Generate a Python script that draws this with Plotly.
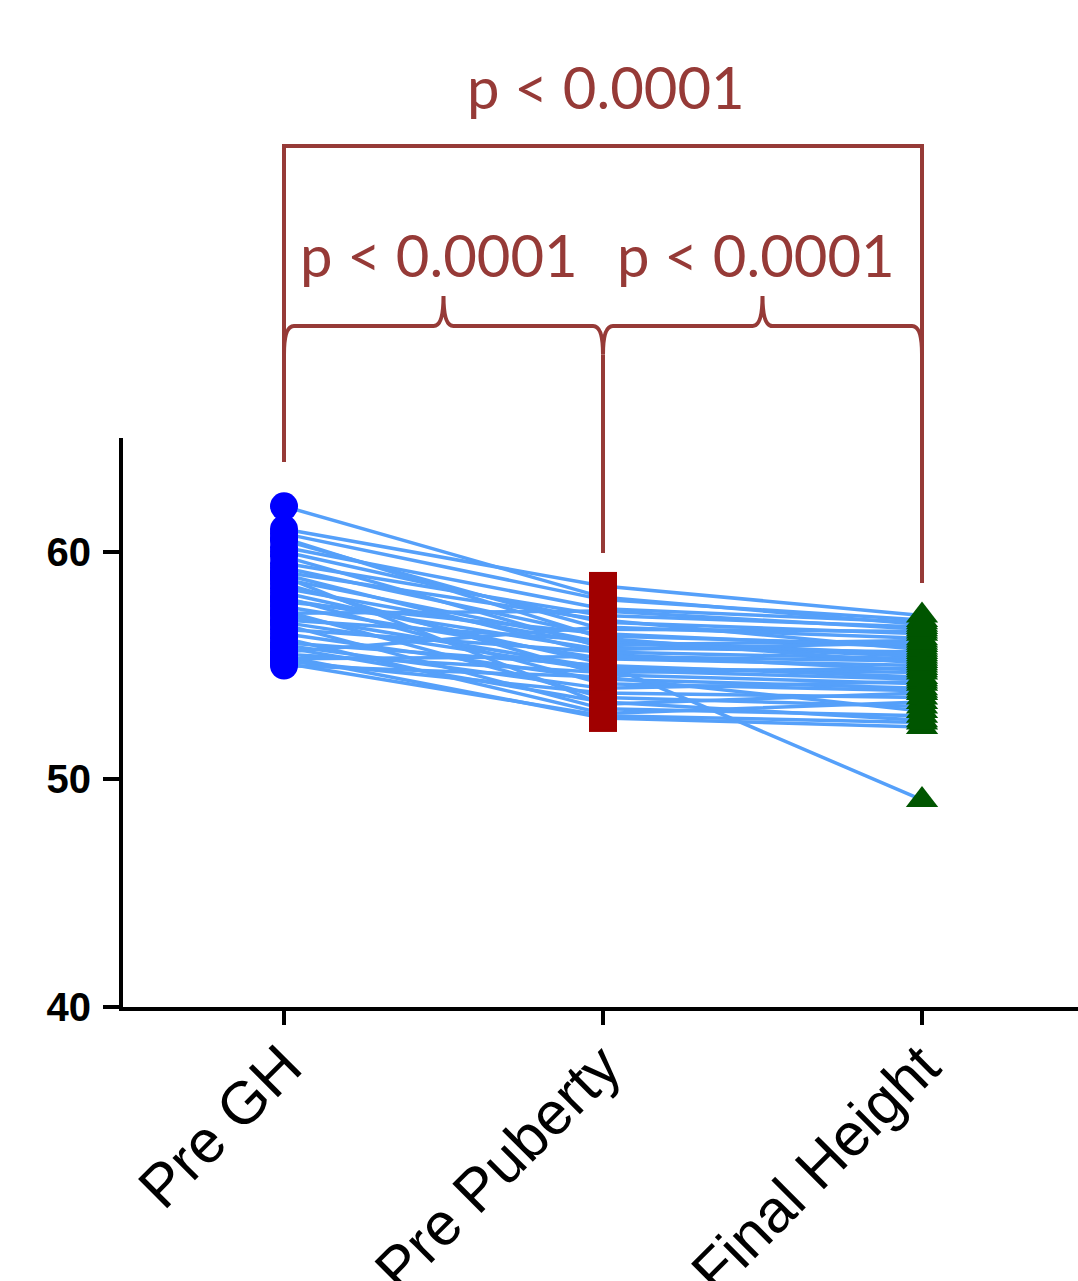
import plotly.graph_objects as go

# ---------------- data ----------------
categories = ["Pre GH", "Pre Puberty", "Final Height"]
pre_gh = [62.0, 61.0, 60.8, 60.5, 60.2, 60.0, 59.8, 59.5, 59.3, 59.0,
          58.8, 58.6, 58.4, 58.2, 58.0, 57.8, 57.6, 57.4, 57.2, 57.0,
          56.8, 56.6, 56.4, 56.2, 56.0, 55.9, 55.8, 55.6, 55.5, 55.4,
          55.3, 55.2, 55.1, 55.0, 59.1, 57.9, 56.9, 60.6, 58.9, 57.3]
pre_puberty = [58.0, 58.5, 57.9, 56.6, 57.5, 56.9, 55.8, 57.2, 56.3, 55.5,
               56.0, 54.6, 55.9, 55.1, 54.2, 56.4, 55.3, 53.6, 54.9, 56.1,
               53.1, 55.6, 54.4, 52.9, 55.0, 54.0, 53.4, 56.7, 54.7, 52.7,
               55.4, 53.8, 52.8, 54.5, 57.0, 55.7, 54.8, 56.2, 53.3, 57.4]
final_height = [56.8, 57.2, 57.0, 56.5, 56.9, 56.4, 55.6, 56.7, 55.9, 54.8,
                55.4, 54.2, 56.1, 49.1, 53.9, 55.8, 55.0, 53.2, 54.7, 55.5,
                52.8, 55.3, 54.0, 53.4, 54.5, 54.3, 52.6, 56.2, 54.9, 52.3,
                55.2, 53.6, 52.5, 53.0, 55.7, 56.0, 54.4, 55.1, 53.8, 56.6]
p_labels = ["p < 0.0001", "p < 0.0001", "p < 0.0001"]
y_ticks = [40, 50, 60]

# ---------------- layout constants ----------------
XR = [-0.5047, 2.489]
YR = [40, 65]
BR_COLOR = "#963a37"
LINE_COLOR = "#55a0fa"

def xp(v):
    return (v - XR[0]) / (XR[1] - XR[0])

def yp(v):
    return (v - YR[0]) / (YR[1] - YR[0])

fig = go.Figure()

# paired lines (one per subject)
lx, ly = [], []
for a, b, c in zip(pre_gh, pre_puberty, final_height):
    lx += [0, 1, 2, None]
    ly += [a, b, c, None]
fig.add_trace(go.Scatter(x=lx, y=ly, mode="lines",
                         line=dict(color=LINE_COLOR, width=3.5),
                         hoverinfo="skip", showlegend=False))

marker_specs = [
    (pre_gh, "circle", "#0000ff"),
    (pre_puberty, "square", "#a00000"),
    (final_height, "triangle-up", "#005500"),
]
for i, (vals, sym, col) in enumerate(marker_specs):
    fig.add_trace(go.Scatter(x=[i] * len(vals), y=vals, mode="markers",
                             marker=dict(symbol=sym, size=28, color=col,
                                         line=dict(width=0)),
                             cliponaxis=False, showlegend=False))

# ---------------- significance brackets ----------------
TOP_LVL = 77.83      # top bracket bar
BRACE_LVL = 69.92    # lower brace bar
BUMP = 1.32          # brace bump height (data units)
CURL = 1.25          # brace end curl depth
LEG_ENDS = [63.95, 59.95, 58.63]
DX = 0.031           # horizontal curl extent (category units)

shapes = []
line_style = dict(color=BR_COLOR, width=4)
# top bracket
shapes.append(dict(type="path", xref="paper", yref="paper",
                   path=f"M {xp(0)} {yp(LEG_ENDS[0])} L {xp(0)} {yp(TOP_LVL)} "
                        f"L {xp(2)} {yp(TOP_LVL)} L {xp(2)} {yp(LEG_ENDS[2])}",
                   line=line_style))
# brace
yb = yp(BRACE_LVL)
yc = yp(BRACE_LVL - CURL)
yu = yp(BRACE_LVL + BUMP)
def bump(xc):
    return (f"L {xp(xc - DX)} {yb} Q {xp(xc)} {yb} {xp(xc)} {yu} "
            f"Q {xp(xc)} {yb} {xp(xc + DX)} {yb} ")
path = (f"M {xp(0)} {yc} Q {xp(0)} {yb} {xp(DX)} {yb} "
        + bump(0.5)
        + f"L {xp(1 - DX)} {yb} Q {xp(1)} {yb} {xp(1)} {yc} "
        + f"Q {xp(1)} {yb} {xp(1 + DX)} {yb} "
        + bump(1.5)
        + f"L {xp(2 - DX)} {yb} Q {xp(2)} {yb} {xp(2)} {yc}")
shapes.append(dict(type="path", xref="paper", yref="paper", path=path,
                   line=line_style))
# middle leg
shapes.append(dict(type="line", xref="paper", yref="paper",
                   x0=xp(1), x1=xp(1), y0=yp(BRACE_LVL - CURL), y1=yp(LEG_ENDS[1]),
                   line=line_style))

ann_font = dict(family="Lato, Open Sans, sans-serif", size=58, color=BR_COLOR)
annotations = [
    dict(x=xp(1.01), y=yp(TOP_LVL + 2.6), xref="paper", yref="paper",
         text=p_labels[0], showarrow=False, font=ann_font,
         xanchor="center", yanchor="middle"),
    dict(x=xp(0.485), y=yp(BRACE_LVL + 3.15), xref="paper", yref="paper",
         text=p_labels[1], showarrow=False, font=ann_font,
         xanchor="center", yanchor="middle"),
    dict(x=xp(1.48), y=yp(BRACE_LVL + 3.15), xref="paper", yref="paper",
         text=p_labels[2], showarrow=False, font=ann_font,
         xanchor="center", yanchor="middle"),
]

fig.update_layout(
    width=1078, height=1281,
    margin=dict(l=123, r=0, t=438, b=274),
    paper_bgcolor="white", plot_bgcolor="white",
    shapes=shapes, annotations=annotations,
    showlegend=False,
)
fig.update_xaxes(range=XR, tickvals=[0, 1, 2], ticktext=categories,
                 tickangle=-45, showgrid=False, zeroline=False, automargin=False,
                 showline=True, linecolor="black", linewidth=4,
                 ticks="outside", ticklen=14, tickwidth=4, tickcolor="black",
                 ticklabelstandoff=-18,
                 tickfont=dict(family="Liberation Sans, Arial, sans-serif",
                               size=60, color="black"))
fig.update_yaxes(range=YR, tickvals=y_ticks, showgrid=False, zeroline=False,
                 automargin=False,
                 showline=True, linecolor="black", linewidth=4,
                 ticks="outside", ticklen=16, tickwidth=4, tickcolor="black",
                 ticklabelstandoff=4,
                 tickfont=dict(family="Liberation Sans, Arial, sans-serif",
                               size=40, color="black", weight="bold"))

fig.write_html("out.html")
